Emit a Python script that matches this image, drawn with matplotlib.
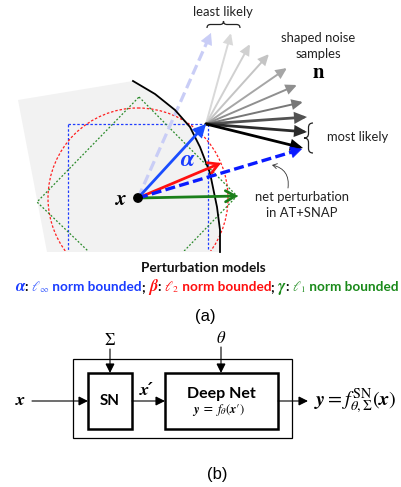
import numpy as np
import matplotlib.pyplot as plt
from matplotlib.patches import FancyArrowPatch, Polygon, Rectangle, Circle, PathPatch
from matplotlib.path import Path

plt.rcParams['mathtext.fontset'] = 'stix'

# --- geometry of panel (a), in picture pixels ---
origin = (138, 198)
linf_tip = (206, 124)
l2_tip = (221, 163)
l1_tip = (238, 196)
snap_tip = (302, 149)
least_tip = (211, 33)
noise_tips = [(231, 33), (250, 44), (269, 54), (287, 68), (297, 85),
              (303, 102), (307, 117), (307, 132), (303, 148)]
noise_grays = ['#d9d9d9', '#d0d0d0', '#c4c4c4', '#a6a6a6', '#8f8f8f',
               '#777777', '#525252', '#2b2b2b', '#000000']
boundary_x = [133, 155, 175, 190, 200, 210, 217, 220, 220]
boundary_y = [81, 94, 110, 127, 147, 173, 207, 230, 252]
box_half = 70
l2_radius = 90
l1_radius = 101
clip_bottom = 251

fig = plt.figure(figsize=(4.01, 4.87), dpi=100)
ax = fig.add_axes([0, 0, 1, 1])
ax.set_xlim(0, 401)
ax.set_ylim(487, 0)
ax.axis('off')

# shaded region bounded by the decision boundary
gray = [(18, 100)] + list(zip(boundary_x, boundary_y)) + [(47, 252)]
ax.add_patch(Polygon(gray, closed=True, fc='#f2f2f2', ec='none', zorder=0))
ax.plot(boundary_x, boundary_y, color='black', lw=1.3, zorder=3)

ox, oy = origin
clip = Polygon([(0, 0), (401, 0), (401, clip_bottom), (0, clip_bottom)],
               closed=True, transform=ax.transData)
sq = Rectangle((ox - box_half, oy - 74), 2 * box_half, 148, fill=False,
               ec='#1f3cff', lw=0.9, ls=(0, (2, 1.5)), zorder=1)
circ = Circle(origin, l2_radius, fill=False, ec='#ff2020', lw=0.9,
              ls=(0, (2, 1.5)), zorder=1)
dia = Polygon([(ox + 1, oy - l1_radius), (ox + l1_radius - 2, oy - 2),
               (ox, oy + l1_radius), (ox - l1_radius, oy + 4)],
              closed=True, fill=False, ec='#2a8a2a', lw=0.9,
              ls=(0, (1.5, 1.5)), zorder=1)
for shape in (sq, circ, dia):
    ax.add_patch(shape)
    shape.set_clip_path(clip)


def arrow(p0, p1, color, lw, style='-|>', hl=0.5, hw=0.25, ms=10, z=4):
    a = FancyArrowPatch(p0, p1, arrowstyle=f'{style},head_length={hl},head_width={hw}',
                        mutation_scale=ms, color=color, lw=lw,
                        shrinkA=0, shrinkB=0, zorder=z, joinstyle='miter')
    ax.add_patch(a)


def dashed_arrow(p0, p1, color, lw, dash, z=4):
    p0 = np.array(p0, float)
    p1 = np.array(p1, float)
    u = (p1 - p0) / np.linalg.norm(p1 - p0)
    base = p1 - u * 6
    ax.plot([p0[0], base[0]], [p0[1], base[1]], color=color, lw=lw,
            dashes=dash, solid_capstyle='butt', zorder=z)
    arrow(tuple(p1 - u * 8), tuple(p1), color, 0.5, ms=10, hl=0.75, hw=0.4, z=z)


dashed_arrow(origin, least_tip, '#c9cdf6', 2.3, (3.2, 1.5), z=2)

for tip, c in zip(noise_tips, noise_grays):
    w = 2.0 if c in ('#2b2b2b', '#000000', '#525252') else 1.4
    arrow(linf_tip, tip, c, w, ms=10, hl=0.6, hw=0.28, z=3)

arrow(origin, l1_tip, '#1a7f1a', 2.0, style='->', hl=0.7, hw=0.4, ms=10)
arrow(origin, l2_tip, '#ff1010', 2.0, style='->', hl=0.7, hw=0.4, ms=10)
arrow(origin, linf_tip, '#1a4dff', 2.0, ms=10, hl=0.65, hw=0.33)
dashed_arrow(origin, snap_tip, '#0a1aff', 2.4, (3.0, 1.3))

ax.add_patch(Circle(origin, 4.2, color='black', zorder=6))

serif = 'STIXGeneral'
ax.text(121, 199, 'x', family=serif, weight='bold', style='italic',
        fontsize=15, ha='center', va='center')
ax.text(187, 160, 'α', family=serif, weight='bold', style='italic',
        fontsize=17, color='#1a3cff', ha='center', va='center')


def brace(p0, p1, depth, lw=0.9):
    p0 = np.array(p0, float)
    p1 = np.array(p1, float)
    L = np.linalg.norm(p1 - p0)
    t = (p1 - p0) / L
    n = np.array([t[1], -t[0]])
    r = min(depth / 2, L / 6)
    uv = [(0, 0), (0, depth / 2), (r, depth / 2), (L / 2 - r, depth / 2),
          (L / 2, depth / 2), (L / 2, depth), (L / 2, depth / 2),
          (L / 2 + r, depth / 2), (L - r, depth / 2), (L, depth / 2), (L, 0)]
    pts = [p0 + a * t + b * n for a, b in uv]
    codes = [Path.MOVETO, Path.CURVE3, Path.CURVE3, Path.LINETO, Path.CURVE3,
             Path.CURVE3, Path.CURVE3, Path.CURVE3, Path.LINETO, Path.CURVE3,
             Path.CURVE3]
    ax.add_patch(PathPatch(Path(pts, codes), fill=False, ec='#222222', lw=lw))


sans = 'Lato'
note = dict(family=sans, fontsize=9.4, va='center', color='#222222')
brace((207, 28), (240, 28), 7)
ax.text(223, 12, 'least likely', ha='center', **note)
ax.text(318, 38, 'shaped noise', ha='center', **note)
ax.text(318, 54, 'samples', ha='center', **note)
ax.text(318, 73, 'n', family=serif, weight='bold', fontsize=15, ha='center', va='center')
brace((313, 153), (313, 123), 9)
ax.text(327, 137, 'most likely', ha='left', **note)
ax.text(302, 197, 'net perturbation', ha='center', **note)
ax.text(302, 213, 'in AT+SNAP', ha='center', **note)
ax.add_patch(FancyArrowPatch((288, 188), (272, 165), connectionstyle='arc3,rad=0.45',
                             arrowstyle='->,head_length=3,head_width=1.8', lw=0.6,
                             color='#333333', shrinkA=0, shrinkB=0))

ax.text(203, 268, 'Perturbation models', family=sans, weight='bold', fontsize=9.8,
        ha='center', va='center', color='#111111')

# coloured legend line, drawn piece by piece
blue, red, green = '#1a3cff', '#ff1010', '#1a8a1a'
pieces = [('α', blue, serif, 'bold', 'italic'), (':', 'black', sans, 'bold', 'normal'),
          (' $\\ell_\\infty$', '#4a6aff', sans, 'normal', 'normal'),
          (' norm bounded', blue, sans, 'bold', 'normal'),
          ('; ', 'black', sans, 'bold', 'normal'),
          ('β', red, serif, 'bold', 'italic'), (':', 'black', sans, 'bold', 'normal'),
          (' $\\ell_2$', red, sans, 'normal', 'normal'),
          (' norm bounded', red, sans, 'bold', 'normal'),
          ('; ', 'black', sans, 'bold', 'normal'),
          ('γ', green, serif, 'bold', 'italic'), (':', 'black', sans, 'bold', 'normal'),
          (' $\\ell_1$', '#3a9a3a', sans, 'normal', 'normal'),
          (' norm bounded', green, sans, 'bold', 'normal')]
texts = []
for s, c, fam, w, st in pieces:
    fs = 11.5 if fam == serif else 9.5
    texts.append(ax.text(0, 287, s.replace(' ', '\u00a0'), family=fam, fontsize=fs, color=c,
                         weight=w, style=st, ha='left', va='center'))
renderer = fig.canvas.get_renderer()
total = sum(t.get_window_extent(renderer).width for t in texts)
k = (398 - 15) / total
for t in texts:
    t.set_fontsize(t.get_fontsize() * k)
x = 15
for t in texts:
    t.set_x(x)
    x += t.get_window_extent(renderer).width

ax.text(205, 316, '(a)', family='Liberation Sans', fontsize=12, ha='center', va='center')

# --- panel (b): block diagram ---
ax.add_patch(Rectangle((73, 359), 219, 79, fill=False, ec='black', lw=0.9))
ax.add_patch(Rectangle((88, 373), 44, 56, fill=False, ec='black', lw=1.8))
ax.add_patch(Rectangle((165, 373), 113, 56, fill=False, ec='black', lw=1.8))
ax.text(110, 401, 'SN', family=sans, weight='bold', fontsize=11, ha='center', va='center')
ax.text(221, 394, 'Deep Net', family=sans, weight='bold', fontsize=11.5, ha='center', va='center')
ax.text(219, 410, '$\\mathbfit{y}$ = $f_\\theta(\\mathbfit{x}\u2032)$', fontsize=9,
        ha='center', va='center')
ax.text(110, 341, 'Σ', family=serif, fontsize=12, ha='center', va='center')
ax.text(221, 339, 'θ', family=serif, style='italic', fontsize=12, ha='center', va='center')
ax.text(20, 401, 'x', family=serif, weight='bold', style='italic', fontsize=13, ha='center', va='center')
ax.text(147, 391, 'x\u2032', family=[serif, 'DejaVu Sans'], weight='bold', style='italic',
        fontsize=13, ha='center', va='center')
ax.text(314, 401, '$\\mathbfit{y} = f_{\\theta,\\Sigma}^{\\mathrm{SN}}(\\mathbfit{x})$',
        fontsize=14.5, ha='left', va='center')
for p0, p1 in [((110, 349), (110, 373)), ((221, 347), (221, 373)),
               ((32, 401), (88, 401)), ((132, 401), (165, 401)),
               ((278, 401), (308, 401))]:
    arrow(p0, p1, 'black', 0.8, ms=8, hl=0.7, hw=0.35)
ax.text(217, 474, '(b)', family='Liberation Sans', fontsize=12, ha='center', va='center')

fig.savefig('out.png', dpi=100)
